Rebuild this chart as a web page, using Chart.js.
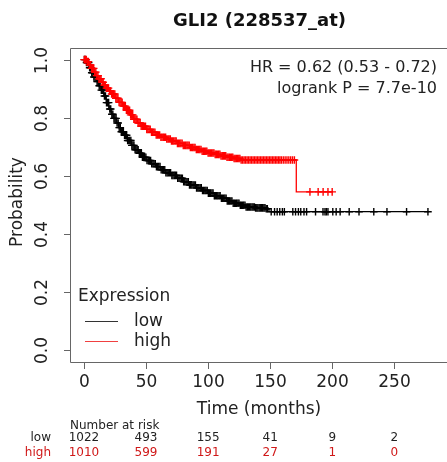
<!DOCTYPE html>
<html>
<head>
<meta charset="utf-8">
<script src="https://cdn.jsdelivr.net/npm/chart.js@4.4.1/dist/chart.umd.min.js"></script>
<style>
  html, body { margin: 0; padding: 0; background: #fff; overflow: hidden; }
  #wrap { width: 447px; height: 462px; position: relative; }
</style>
</head>
<body>
<div id="wrap"><canvas id="km"></canvas></div>
<script>
// step points of the Kaplan-Meier curves (months, survival probability)
var lowTime = [0, 2, 4, 6, 8, 10, 12, 14, 16, 18, 20, 22, 24, 26, 28, 30, 32, 35, 38, 41, 44, 47, 50, 54, 58, 62, 66, 70, 75, 80, 85, 90, 95, 100, 105, 110, 115, 120, 125, 130, 138, 146, 149, 278];
var lowSurv = [1.000, 0.990, 0.972, 0.955, 0.940, 0.925, 0.910, 0.895, 0.875, 0.852, 0.830, 0.812, 0.798, 0.782, 0.766, 0.752, 0.740, 0.722, 0.705, 0.690, 0.678, 0.664, 0.653, 0.642, 0.632, 0.621, 0.611, 0.602, 0.592, 0.580, 0.569, 0.559, 0.550, 0.541, 0.532, 0.523, 0.514, 0.506, 0.499, 0.493, 0.490, 0.487, 0.477, 0.477];

var highTime = [0, 2, 4, 6, 8, 10, 12, 14, 16, 18, 20, 22, 25, 28, 31, 34, 37, 40, 43, 46, 50, 54, 58, 62, 66, 70, 75, 80, 85, 90, 95, 100, 105, 110, 115, 120, 126, 171, 200];
var highSurv = [1.000, 0.993, 0.982, 0.970, 0.957, 0.945, 0.934, 0.922, 0.912, 0.902, 0.892, 0.882, 0.867, 0.853, 0.840, 0.826, 0.810, 0.795, 0.782, 0.771, 0.760, 0.750, 0.741, 0.733, 0.727, 0.720, 0.712, 0.705, 0.698, 0.691, 0.685, 0.679, 0.674, 0.669, 0.664, 0.660, 0.655, 0.545, 0.545];

// censoring times ("+" marks)
var lowCensor = [0.4, 1.2, 2.1, 2.9, 3.8, 4.6, 5.5, 6.3, 7.2, 8, 8.9, 9.7, 10.6, 11.4, 12.3, 13.1, 14, 14.8, 15.7, 16.5, 17.4, 18.2, 19.1, 19.9, 20.8, 21.6, 22.5, 23.3, 24.2, 25, 25.9, 26.7, 27.6, 28.4, 29.3, 30.1, 31, 31.8, 32.7, 33.5, 34.4, 35.2, 36.1, 36.9, 37.8, 38.6, 39.5, 40.3, 41.2, 42, 42.9, 43.7, 44.6, 45.4, 46.3, 47.1, 48, 48.9, 49.9, 50.8, 51.8, 52.7, 53.7, 54.6, 55.6, 56.5, 57.5, 58.4, 59.4, 60.3, 61.3, 62.2, 63.2, 64.1, 65.1, 66, 67, 67.9, 68.9, 69.8, 70.8, 71.7, 72.7, 73.6, 74.6, 75.5, 76.5, 77.4, 78.4, 79.3, 80.3, 81.2, 82.2, 83.1, 84.1, 85, 86, 86.9, 87.9, 88.8, 89.8, 90.7, 91.7, 92.6, 93.6, 94.5, 95.5, 96.4, 97.4, 98.3, 99.3, 100.2, 101.2, 102.1, 103.1, 104, 105, 105.9, 106.9, 107.8, 108.8, 109.7, 110.7, 111.6, 112.6, 113.5, 114.5, 115.4, 116.4, 117.3, 118.3, 119.2, 120.2, 121.1, 122.1, 123, 124, 124.9, 125.9, 126.8, 127.8, 128.7, 129.7, 130.6, 131.6, 132.5, 133.5, 134.4, 135.4, 136.3, 137.3, 138.2, 139.2, 140.1, 141.1, 142, 143, 143.9, 144.9, 145.8, 146.8, 147.7, 150.8, 153.5, 155.6, 157.7, 159.8, 161.4, 168.2, 170.4, 172.7, 174.6, 177.2, 179.3, 186.5, 192.5, 194.1, 195.2, 196.5, 200.4, 203.1, 206.3, 213.6, 221.5, 233.4, 244, 259.8, 277];
var highCensor = [0.3, 1.1, 1.9, 2.8, 3.6, 4.5, 5.3, 6.2, 7, 7.9, 8.7, 9.6, 10.4, 11.3, 12.1, 13, 13.8, 14.7, 15.5, 16.4, 17.2, 18.1, 18.9, 19.8, 20.6, 21.5, 22.3, 23.2, 24, 24.9, 25.7, 26.6, 27.4, 28.3, 29.1, 30, 30.8, 31.7, 32.5, 33.4, 34.2, 35.1, 35.9, 36.8, 37.6, 38.5, 39.3, 40.2, 41, 41.9, 42.7, 43.6, 44.4, 45.3, 46.1, 47, 47.8, 48.7, 49.6, 50.6, 51.5, 52.5, 53.4, 54.4, 55.3, 56.3, 57.2, 58.2, 59.1, 60.1, 61, 62, 62.9, 63.9, 64.8, 65.8, 66.7, 67.7, 68.6, 69.6, 70.5, 71.5, 72.4, 73.4, 74.3, 75.3, 76.2, 77.2, 78.1, 79.1, 80, 81, 81.9, 82.9, 83.8, 84.8, 85.7, 86.7, 87.6, 88.6, 89.5, 90.5, 91.4, 92.4, 93.3, 94.3, 95.2, 96.2, 97.1, 98.1, 99, 100, 100.9, 101.9, 102.8, 103.8, 104.7, 105.7, 106.6, 107.6, 108.5, 109.5, 110.4, 111.4, 112.3, 113.3, 114.2, 115.2, 116.1, 117.1, 118, 119, 119.9, 120.9, 121.8, 122.8, 123.7, 124.7, 125.6, 126.6, 127.8, 129, 130.2, 131.4, 132.6, 133.8, 135, 136.2, 137.4, 138.6, 139.8, 141, 142.2, 143.4, 144.6, 145.8, 147, 148.2, 149.4, 150.6, 151.8, 153, 154.2, 155.4, 156.6, 157.8, 159, 160.5, 162, 163.5, 165, 166.5, 168, 169.5, 182, 188.6, 192.6, 196.5, 199.9];

var xTicks = [0, 50, 100, 150, 200, 250];
var yTicks = [0, 0.2, 0.4, 0.6, 0.8, 1.0];
var yTickLabels = ['0.0', '0.2', '0.4', '0.6', '0.8', '1.0'];
var riskLow = [1022, 493, 155, 41, 9, 2];
var riskHigh = [1010, 599, 191, 27, 1, 0];
var groups = ['low', 'high'];
var chartTitle = 'GLI2 (228537_at)';
var hrText = 'HR = 0.62 (0.53 - 0.72)';
var pText = 'logrank P = 7.7e-10';

var FONT = '"DejaVu Sans", sans-serif';
var RED = '#ff0000';
var RISK_RED = '#d01818';

function toPoints(xs, ys) {
  return xs.map(function (x, i) { return { x: x, y: ys[i] }; });
}

// survival value of a step curve at time t
function survAt(xs, ys, t) {
  var s = ys[0];
  for (var i = 0; i < xs.length; i++) {
    if (xs[i] <= t) s = ys[i]; else break;
  }
  return s;
}

function censorPoints(xs, ys, cs) {
  return cs.map(function (t) { return { x: t, y: survAt(xs, ys, t) }; });
}

var rPlot = {
  id: 'rPlot',
  afterDraw: function (chart) {
    var ctx = chart.ctx;
    var a = chart.chartArea;
    var xs = chart.scales.x, ys = chart.scales.y;
    ctx.save();

    // box
    ctx.strokeStyle = '#666';
    ctx.lineWidth = 1;
    ctx.beginPath();
    ctx.moveTo(a.right + 10, a.top + 0.5);
    ctx.lineTo(a.left + 0.5, a.top + 0.5);
    ctx.lineTo(a.left + 0.5, a.bottom + 0.5);
    ctx.lineTo(a.right + 10, a.bottom + 0.5);
    ctx.stroke();

    // x axis
    ctx.fillStyle = '#222';
    ctx.font = '17px ' + FONT;
    ctx.textAlign = 'center';
    ctx.textBaseline = 'middle';
    xTicks.forEach(function (v) {
      var px = Math.round(xs.getPixelForValue(v)) + 0.5;
      ctx.beginPath();
      ctx.moveTo(px, a.bottom);
      ctx.lineTo(px, a.bottom + 7);
      ctx.stroke();
      ctx.fillText(String(v), px, a.bottom + 21);
    });
    ctx.fillText('Time (months)', (a.left + 447) / 2 + 0.5, a.bottom + 48);

    // y axis
    yTicks.forEach(function (v, i) {
      var py = Math.round(ys.getPixelForValue(v)) + 0.5;
      ctx.beginPath();
      ctx.moveTo(a.left - 6, py);
      ctx.lineTo(a.left, py);
      ctx.stroke();
      ctx.save();
      ctx.translate(a.left - 27, py);
      ctx.rotate(-Math.PI / 2);
      ctx.fillText(yTickLabels[i], 0, 0);
      ctx.restore();
    });
    ctx.save();
    ctx.translate(18, 202);
    ctx.rotate(-Math.PI / 2);
    ctx.fillText('Probability', 0, 0);
    ctx.restore();

    // title
    ctx.font = 'bold 18px ' + FONT;
    ctx.fillStyle = '#111';
    ctx.fillText(chartTitle, 259.5, 21);

    // HR and logrank
    ctx.font = '16px ' + FONT;
    ctx.fillStyle = '#222';
    ctx.textAlign = 'right';
    ctx.fillText(hrText, 437, 68);
    ctx.fillText(pText, 437, 89);

    // legend
    ctx.font = '17px ' + FONT;
    ctx.textAlign = 'left';
    ctx.fillText('Expression', 78, 297);
    ctx.lineWidth = 1;
    ctx.strokeStyle = '#333';
    ctx.beginPath(); ctx.moveTo(85, 321.5); ctx.lineTo(118, 321.5); ctx.stroke();
    ctx.strokeStyle = '#f04040';
    ctx.beginPath(); ctx.moveTo(85, 341.5); ctx.lineTo(118, 341.5); ctx.stroke();
    ctx.fillText(groups[0], 134, 322);
    ctx.fillText(groups[1], 134, 342);

    // number at risk table
    ctx.font = '12px ' + FONT;
    ctx.fillStyle = '#222';
    ctx.textAlign = 'left';
    ctx.fillText('Number at risk', 70, 426);
    ctx.textAlign = 'right';
    ctx.fillText(groups[0], 51, 438);
    ctx.fillStyle = RISK_RED;
    ctx.fillText(groups[1], 51, 453);
    ctx.textAlign = 'center';
    xTicks.forEach(function (v, i) {
      var px = xs.getPixelForValue(v);
      ctx.fillStyle = '#222';
      ctx.fillText(String(riskLow[i]), px, 438);
      ctx.fillStyle = RISK_RED;
      ctx.fillText(String(riskHigh[i]), px, 453);
    });
    ctx.restore();
  }
};

var ctx = document.getElementById('km').getContext('2d');
var myChart = new Chart(ctx, {
  type: 'scatter',
  data: {
    datasets: [
      {
        label: 'high',
        data: toPoints(highTime, highSurv),
        showLine: true,
        stepped: 'before',
        borderColor: RED,
        borderWidth: 1.3,
        pointRadius: 0,
        order: 0
      },
      {
        label: 'high censored',
        data: censorPoints(highTime, highSurv, highCensor),
        showLine: false,
        pointStyle: 'cross',
        pointRadius: 3.8,
        borderColor: RED,
        borderWidth: 1.4,
        order: 0
      },
      {
        label: 'low',
        data: toPoints(lowTime, lowSurv),
        showLine: true,
        stepped: 'before',
        borderColor: '#000',
        borderWidth: 1.3,
        pointRadius: 0,
        order: 1
      },
      {
        label: 'low censored',
        data: censorPoints(lowTime, lowSurv, lowCensor),
        showLine: false,
        pointStyle: 'cross',
        pointRadius: 3.8,
        borderColor: '#000',
        borderWidth: 1.4,
        order: 1
      }
    ]
  },
  options: {
    responsive: true,
    maintainAspectRatio: false,
    animation: false,
    layout: { padding: { left: 70, top: 48, right: 0, bottom: 100 } },
    scales: {
      x: { type: 'linear', min: -11.2, max: 288, display: false },
      y: { type: 'linear', min: -0.04, max: 1.04, display: false }
    },
    plugins: {
      legend: { display: false },
      tooltip: { enabled: false },
      title: { display: false }
    }
  },
  plugins: [rPlot]
});
</script>
</body>
</html>
